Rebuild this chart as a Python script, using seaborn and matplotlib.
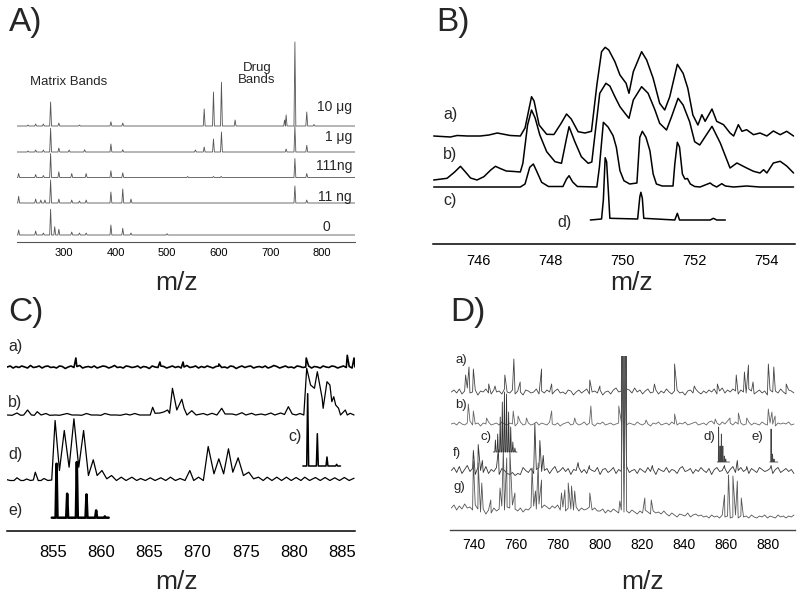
import numpy as np
import seaborn as sns
import matplotlib.pyplot as plt

W, H = 800, 594

# ---------------- panel A: stick peaks per loading (m/z, height)
A_LABELS = ["10 μg", "1 μg", "111ng", "11 ng", "0"]
A_MZ_10UG = [230, 245, 260, 274, 290, 330, 391, 414, 572, 590, 605.5, 632, 728, 731, 748, 771, 785]
A_INT_10UG = [1, 2, 2, 24, 3, 1, 4.3, 3, 17, 34, 43.7, 6, 6, 11, 84, 14, 1.5]
A_MZ_1UG = [230, 245, 260, 274, 290, 310, 340, 391, 414, 555, 572, 590, 605.5, 731, 748, 771]
A_INT_1UG = [1, 2, 2, 23.7, 4, 2, 2.3, 8, 2.3, 2, 5, 13, 20, 3, 26, 6.7]
A_MZ_111NG = [212, 245, 260, 274, 290, 315, 343, 391, 414, 540, 590, 605, 748, 771]
A_INT_111NG = [4, 3, 2, 24, 5.7, 4, 4, 6.7, 4.7, 1, 1, 1, 19, 4]
A_MZ_11NG = [212, 245, 255, 263, 274, 290, 315, 330, 343, 391, 414, 430, 748, 771]
A_INT_11NG = [6.7, 4, 3, 3, 23, 4, 3, 2, 3, 11, 14, 4, 17, 3]
A_MZ_0 = [212, 245, 260, 274, 282, 290, 315, 330, 343, 391, 414, 430, 500]
A_INT_0 = [5, 4, 2, 25.7, 8.3, 5.7, 3, 2, 2, 10, 6.7, 2, 1.3]

# ---------------- panel B: traced profiles (m/z, intensity)
B_A_MZ = [744.77, 745.23, 745.42, 745.70, 746.06, 746.30, 746.53, 746.89, 747.17, 747.30, 747.48,
          747.55, 747.69, 747.90, 748.10, 748.30, 748.45, 748.58, 748.77, 748.96, 749.14, 749.29,
          749.42, 749.52, 749.62, 749.79, 749.93, 750.10, 750.18, 750.30, 750.53, 750.67, 750.85,
          751.03, 751.17, 751.31, 751.52, 751.68, 751.81, 751.95, 752.09, 752.20, 752.29, 752.48,
          752.61, 752.80, 752.98, 753.08, 753.21, 753.31, 753.44, 753.63, 753.81, 754.00, 754.18,
          754.37, 754.55, 754.74]
B_A_INT = [0, -1, 0.5, 0, 0, 1, 3, 0.5, 0, 8, 39.3, 35, 11, 1.7, 1.5, 12.7, 22, 17, 4.3, 3, 4.7,
           51, 84.3, 88.7, 86, 74.3, 61, 52.7, 42.7, 64.3, 84.3, 76, 57.7, 32.7, 26, 39.3, 71.7,
           62.7, 47.7, 21, 11, 21.3, 14.7, 27, 14.7, 11.3, 3, 0, 11.3, 4.7, 6.3, 1.3, 3, 0, 5, 1.3,
           4.7, 0]
B_B_MZ = [744.77, 745.14, 745.35, 745.51, 745.65, 745.79, 745.97, 746.16, 746.35, 746.48, 746.60,
          746.78, 747.00, 747.17, 747.24, 747.37, 747.48, 747.58, 747.71, 747.90, 748.13, 748.31,
          748.45, 748.52, 748.68, 748.86, 749.05, 749.15, 749.29, 749.37, 749.54, 749.65, 749.79,
          749.93, 750.07, 750.18, 750.30, 750.53, 750.71, 750.90, 751.03, 751.22, 751.36, 751.54,
          751.68, 751.86, 752.00, 752.14, 752.48, 752.71, 752.98, 753.17, 753.44, 753.63, 753.81,
          753.91, 754.00, 754.18, 754.37, 754.55, 754.74]
B_B_INT = [0, 1.7, 8, 13.7, 8, 2, 0, 3.3, 10, 13.7, 11.7, 9, 8.5, 8, 16.7, 55, 70, 62, 45, 28.3,
           18.3, 16.7, 41.7, 53.3, 38.3, 23.3, 16.7, 18, 61.7, 86.7, 96.7, 94, 83.3, 73.3, 66.7,
           61.7, 80, 93.3, 86.7, 70, 56.7, 50, 63.3, 81.7, 75, 58.3, 38.3, 35, 53.7, 37, 12, 17,
           12, 8.7, 7, 10.3, 7, 17, 18.7, 14, 7]
B_C_MZ = [744.77, 747.17, 747.30, 747.43, 747.53, 747.62, 747.76, 747.95, 748.35, 748.45, 748.52,
          748.62, 748.75, 749.29, 749.36, 749.47, 749.60, 749.74, 749.83, 749.93, 750.04, 750.20,
          750.40, 750.48, 750.55, 750.65, 750.76, 750.85, 750.94, 751.10, 751.40, 751.45, 751.52,
          751.58, 751.66, 751.73, 751.80, 751.88, 752.00, 752.15, 752.43, 752.50, 752.61, 752.75,
          752.85, 753.08, 753.44, 753.80, 754.74]
B_C_INT = [0, 0, 3, 19.7, 23, 16, 4.7, 0.5, 0.5, 8, 11.3, 5, 0.5, 0, 19.7, 64.7, 60, 51.3, 39.7,
           16.3, 6.3, 3, 4, 49.7, 55.7, 49.7, 36.3, 13, 3, 1, 1, 23, 44.7, 40, 13, 8, 8.5, 3, 0.5,
           0, 4, 2, 0, 3.3, 1, 0, 1, 0, 0]
B_D_MZ = [749.11, 749.42, 749.47, 749.52, 749.56, 749.61, 749.65, 750.42, 750.48, 750.51, 750.55,
          750.59, 751.45, 751.52, 751.58, 752.43, 752.52, 752.61, 752.85]
B_D_INT = [0, 1, 20, 62.3, 58.3, 28, 1.7, 1, 23, 27.7, 21.7, 1.7, 0, 6.7, 0, 0, 1.7, 0, 0]

# ---------------- panel C
C_A_NOISE = [0, 1, -1, 0.5, -0.5, 1, 0, -1, 1.5, -0.5, 0, 1, -1, 0.5, 1, -0.5, 0, -1, 1, 0.5,
             -1.5, 0, 1, -0.5, 0.5, 1.5, -1, 0, 0.5, -0.5, 1, -1, 0, 1, 0.5, -1, 0, 1.5, -0.5, 0,
             -1, 1, 0.5, -0.5, 0, 1, -1, 0.5, 0, -1.5, 1, 0, -0.5, 1, 0.5, -1, 0, 1, -0.5, 0.5,
             -1, 0, 1.5, -0.5, 0, 1, -1, 0.5, -0.5, 1, 0, -1, 0.5, 1, -0.5, 0, -1, 1, 0.5, -1.5,
             0, 1, -0.5, 0.5, 1, -1, 0, 0.5, -0.5, 1, -1, 0, 1.5, 0.5, -1, 0, 1, -0.5, 0, -1,
             1, 0.5, -0.5, 0, 1, -1, 0.5, 0, -1, 1, 0, -0.5, 1, 0.5, -1, 0, 1, -0.5, 0.5, -1, 0]
C_A_PEAK_MZ = [857.4, 866.1, 868.5, 872.2, 881.25, 885.5, 886.2]
C_A_PEAK_INT = [9, 5, 5, 3, 9, 11.7, 9]
C_B_MZ = [850.3, 850.8, 851.3, 851.7, 852.0, 852.4, 852.8, 853.1, 853.4, 853.8, 854.3, 854.7,
          855.3, 855.7, 856.5, 857.0, 857.6, 858.0, 858.5, 859.0, 859.6, 860.0, 860.4, 861.0,
          861.6, 862.0, 862.6, 863.0, 863.5, 864.0, 864.6, 865.1, 865.35, 865.6, 866.1, 866.5,
          866.9, 867.1, 867.4, 867.85, 868.37, 868.6, 868.9, 869.4, 869.85, 870.6, 871.0, 871.5,
          872.0, 872.5, 872.85, 873.6, 874.0, 874.6, 875.0, 875.6, 876.0, 876.6, 877.0, 877.6,
          878.0, 878.6, 879.0, 879.4, 879.8, 880.2, 880.6, 881.0, 881.3, 881.7, 882.1, 882.4,
          882.9, 883.0, 883.4, 883.7, 883.9, 884.1, 884.3, 884.6, 884.8, 885.3, 885.5, 885.8, 886.2]
C_B_INT = [0, -0.3, 2, -0.3, 0, 5, 0, -0.3, 3.3, 0, 1.5, -0.3, 0, -0.3, 1.5, 0, 0, -0.3, 1.5, 0,
           0, -0.3, 1.5, 0, 0, -0.3, 1, 0, 1.5, 0, 0, 0, 7.7, 1.7, 2, 3, 5, 1.7, 26.7, 5, 15.7,
           6.7, 0, 4.3, 0, 1.5, 0, 1.7, 0, 6.7, 1, 1, 0, 2.3, 0, 1.7, 0, 1, 0, 2, 0, 2, 0.5, 8.3,
           1, 0, 1.5, 0, 46.7, 30, 26.7, 43.3, 16.7, 6.7, 33.3, 30, 13.3, 18.3, 10, 6.7, 0, 5, 0,
           1.7, 0]
C_C_PEAK_MZ = [881.4, 882.4, 883.4, 884.4]
C_C_PEAK_INT = [72.3, 32.3, 9, 1.7]
C_D_MZ = [850.2, 850.6, 851.0, 851.3, 851.7, 852.0, 852.3, 852.7, 853.0, 853.2, 853.5, 853.8,
          854.1, 854.5, 854.9, 855.25, 855.7, 856.2, 856.7, 857.2, 857.7, 858.2, 858.7, 859.2,
          859.6, 860.1, 860.6, 861.1, 861.6, 862.1, 862.6, 863.2, 863.7, 864.1, 864.6, 865.1,
          865.6, 866.2, 866.7, 867.2, 867.7, 868.2, 868.7, 869.2, 869.6, 870.1, 870.6, 871.1,
          871.7, 872.2, 872.7, 873.2, 873.65, 874.2, 874.75, 875.3, 875.8, 876.3, 876.8, 877.2,
          877.7, 878.2, 878.7, 879.2, 879.7, 880.2, 880.7, 881.1, 881.6, 882.2, 882.7, 883.2,
          883.7, 884.2, 884.7, 885.2, 885.7, 886.2]
C_D_INT = [1, 0, 0, 2.7, 0, 0, 1.5, 0, 0.5, 8.3, 0, 0, 2, 0, 0.5, 60, 10, 50, 13.3, 61.7, 13.3,
           50, 5, 20.7, 5, 10, 1.7, 5, 0, 3.3, 0, 3.3, 0, 2, 0, 2.7, 0, 2.7, 0, 3.3, 0, 2, 0, 10,
           0, 3.3, 0, 34, 6.7, 21.7, 6.7, 31.7, 8.3, 22.7, 5, 8.3, 1.7, 3.3, 0, 3.3, 0, 3.3, 0,
           3.3, 0, 3, 0, 3.3, 0, 3, 0, 3, 0, 2.7, 0, 3, 0, 2.3]
C_E_PEAK_MZ = [855.4, 856.5, 857.5, 858.5, 859.5, 860.4]
C_E_PEAK_INT = [54, 24, 55.7, 23.3, 7.3, 1.3]

# ---------------- panel D
D_A_NOISE = [0, 2, -1, 3, -2, 1, 4, -1, 0, 2, -3, 1, 0, 3, -1, -2, 2, 0, 1, -2, 3, 0, -1, 2, -2,
             1, 0, -3, 2, 1, -1, 0, 3, -2, 1, -1, 2, 0, -2, 1, 3, -1, 0, -2, 2, 1, -3, 0, 2, -1,
             1, 3, -2, 0, 1, -1, 2, -3, 0, 1, -2, 2, 4, 0, 1, -1, 3, 2, -1, 4, 0, 2, -2, 1, 3,
             -1, 0, 2, -2, 1, -1, 3, 0, -2, 1, 2, -1, 0, -3, 1, 2, -1, 3, 0, -2, 1, -1, 2, 0, 3,
             -2, 1, 4, -1, 2, 0, 3, 1, -2, 2, 0, -1, 3, 1, -2, 0, 2, -1, 1, -3, 2, 0, 1, -1, 3,
             0, -2, 2, 1, -1]
D_A_PEAK_MZ = [736.0, 737.6, 739.7, 747, 750, 754.7, 759.0, 762, 772.2, 777, 795.2, 800, 810.6,
               812.4, 826, 835.6, 845, 856, 865, 868.9, 870.8, 873, 880.3, 882.9, 888.8]
D_A_PEAK_INT = [17, 25, 23, 8, 6, 17, 33, 10, 23, 8, 12, 6, 130, 130, 8, 28, 6, 8, 17, 20, 27,
                10, 28, 25, 8]
D_B_NOISE = [0, 1, -1, 2, 0, -1, 1, 3, -1, 0, 1, -2, 1, 0, 2, -1, 0, 1, -1, 2, 0, -1, 1, 0, -2,
             1, 2, -1, 0, 1, -1, 0, 2, -1, 1, 0, -1, 2, 0, -1, 1, -2, 0, 1, 2, -1, 0, 1, -1, 0,
             2, -1, 1, 0, -2, 1, 0, 2, -1, 0, 1, -1, 0, 1, 2, 0, -1, 1, 0, -1, 2, 0, -1, 1, 0,
             -2, 1, 0, 2, -1, 0, 1, -1, 2, 0, -1, 1, 0, 2, -1, 0, 1, 2, -1, 0, 1, -1, 2, 3, 0,
             1, -1, 2, 0, 3, 1, -1, 2, 0, 1, -1, 0, 2, -1, 1, 0, -1, 2, 0, -1, 1, 0, -2, 1, 0,
             1, 0, 2, -1, 0]
D_B_PEAK_MZ = [737.3, 739.7, 746, 758.7, 761, 765, 777, 788, 795.7, 809, 810.6, 812.4, 822,
               835.6, 855, 862, 866, 870, 880.3, 882, 883.5]
D_B_PEAK_INT = [20, 13, 6, 13, 8, 6, 13, 6, 18, 18, 130, 130, 4, 10, 5, 6, 11, 6, 15, 12, 8]
D_F_NOISE = [0, 3, -2, 4, -3, 1, 5, -1, 2, -4, 3, 0, -2, 4, -3, 1, -1, 3, -4, 2, 0, -3, -4, -2,
             -5, -3, -4, 3, 0, -2, 2, -3, 1, 3, -1, 0, 2, -3, 1, 4, -2, 0, 3, -1, 2, -4, 1, 0, 3,
             -2, 1, -3, 2, 0, -1, 3, -4, 1, 2, -2, 0, 3, -3, 1, -1, 2, 4, -2, 0, 1, -3, 2, 0, -2,
             3, -1, 1, -4, 2, 0, -1, 3, -2, 1, 0, -3, 2, 4, -1, 0, 2, -3, 1, -1, 3, 0, -2, 2, -4,
             1, 3, -1, 0, 2, -3, 1, 4, -2, 0, 3, -1, 1, -3, 2, 0, -2, 3, 1, -1, 0, 2, -3, 1, 3,
             -2, 0, 2, -1, 1, -3]
D_F_PEAK_MZ = [739.7, 742.0, 744, 751.6, 769, 771.4, 773, 789.6, 795, 810.6, 812.4, 825, 859.4,
               865.5, 870, 881.6]
D_F_PEAK_INT = [20, 26, 10, 21, 47, 30, 15, 8, 5, 150, 150, 5, 5, 10, 4, 5]
D_G_NOISE = [10, 13, 8, 12, 9, 14, 10, 11, 8, 13, 9,
             6, 9, 4, 8, 5, 10, 7,
             9, 12, 8, 11, 10, 13, 9,
             7, 10, 6, 9, 8, 11,
             12, 9, 14, 10, 13, 11, 9, 12, 10, 13,
             8, 11, 7, 10, 9, 8, 11, 7, 10, 8, 9, 11, 8, 10, 7,
             7, 9, 5, 8, 6, 9, 7, 5, 8, 6,
             7, 5, 8, 6, 4, 7, 5, 8, 6, 4, 7, 5, 6, 4, 7,
             4, 2, 5, 3, 1, 4, 3, 2, 5, 1, 3, 4, 2, 3, 1,
             2, 0, 3, 1, 2, 0, 3, 1, 2, 0, 1, 3, 0, 2, 1,
             2, 0, 3, 1, 0, 2, 1, 3, 0, 2, 1, 0, 3, 1, 2, 0, 2, 1, 3]
D_G_PEAK_MZ = [739.7, 742.0, 743.7, 748, 752.4, 754.0, 755.6, 757.1, 759.5, 767.7, 769.3, 770.6,
               772.2, 781.7, 783.3, 784.9, 786.5, 788.0, 795.2, 809.5, 810.6, 812.4, 821.4,
               824.5, 859.4, 861.3, 863.4, 865.5, 867.4]
D_G_PEAK_INT = [57, 55, 35, 18, 30, 70, 60, 67, 25, 50, 27, 55, 38, 25, 28, 35, 32, 27, 25, 17,
                170, 170, 20, 18, 23, 43, 42, 37, 20]
D_C_PEAK_MZ = [750.2, 751.3, 752.5, 753.5, 754.5, 755.5, 756.5, 757.5, 758.5, 759.5]
D_C_PEAK_INT = [12, 18, 35, 50, 60, 58, 40, 25, 10, 4]
D_D_PEAK_MZ = [856.6, 857.3, 857.9, 858.6, 859.3, 860.0]
D_D_PEAK_INT = [35, 16, 28, 16, 6, 3]
D_E_PEAK_MZ = [881.6, 882.3, 883.0]
D_E_PEAK_INT = [33, 8, 3]


def sticks(mz, inten, lo, hi, w):
    xs, ys = [lo], [0.0]
    for m, v in sorted(zip(mz, inten)):
        xs += [m - w, m, m + w]
        ys += [0.0, v, 0.0]
    xs.append(hi)
    ys.append(0.0)
    return xs, ys


def noisy(noise, mz, inten, lo, hi):
    grid = np.linspace(lo, hi, len(noise))
    pts = sorted(list(zip(grid, noise)) + list(zip(mz, inten)))
    xs, ys = zip(*pts)
    return list(xs), list(ys)


def draw(ax, xs, ys, offset, color="black", lw=1.0):
    sns.lineplot(x=np.asarray(xs, float), y=np.asarray(ys, float) + offset, ax=ax,
                 color=color, linewidth=lw, sort=False, estimator=None, legend=False)


def panel(fig, left, top, right, bottom, xlim, ticks, size, tlen, pad, color, lw):
    ax = fig.add_axes([left / W, 1 - bottom / H, (right - left) / W, (bottom - top) / H])
    ax.patch.set_alpha(0)
    ax.set_xlim(*xlim)
    ax.set_ylim(0, bottom - top)
    sns.despine(ax=ax, left=True)
    ax.spines["bottom"].set_color(color)
    ax.spines["bottom"].set_linewidth(lw)
    ax.set_xticks(ticks)
    ax.set_yticks([])
    ax.tick_params(axis="x", direction="in", length=tlen, width=lw, color=color,
                   labelsize=size, pad=pad, labelcolor="black")
    return ax


def label(fig, x, y, s, size, ha="left", **kw):
    fig.text(x / W, 1 - y / H, s, fontsize=size, ha=ha, va="center", **kw)


sns.set_theme(style="white")
plt.rcParams["font.family"] = ["Liberation Sans", "DejaVu Sans"]

fig = plt.figure(figsize=(8, 5.94), dpi=100)

# ---- A
axA = panel(fig, 17, 40, 355, 242, (208.8, 864.6), [300, 400, 500, 600, 700, 800], 8, 5, 4,
            "#555555", 0.8)
a_sets = [(A_MZ_10UG, A_INT_10UG), (A_MZ_1UG, A_INT_1UG), (A_MZ_111NG, A_INT_111NG),
          (A_MZ_11NG, A_INT_11NG), (A_MZ_0, A_INT_0)]
for (mz, it), off in zip(a_sets, [116, 90, 64.5, 39, 7]):
    xs, ys = sticks(mz, it, 208.8, 864.6, 1.8)
    draw(axA, xs, ys, off, "#555555", 0.6)
for s, y in zip(A_LABELS[:4], [107, 137, 166, 197]):
    label(fig, 352, y, s, 10, ha="right")
label(fig, 326, 227, A_LABELS[4], 10, ha="center")
label(fig, 30, 82, "Matrix Bands", 9.5)
label(fig, 257, 74, "Drug\nBands", 9.5, ha="center", linespacing=1.05)

# ---- B
axB = panel(fig, 433, 40, 795, 244, (744.75, 754.78), [746, 748, 750, 752, 754], 10.5, 7, 7,
            "black", 1.1)
draw(axB, B_A_MZ, B_A_INT, 108, lw=1.1)
draw(axB, B_B_MZ, B_B_INT, 64, lw=1.1)
draw(axB, B_C_MZ, B_C_INT, 57, lw=1.1)
draw(axB, B_D_MZ, B_D_INT, 24, lw=1.1)
for s, x, y in [("a)", 443, 115), ("b)", 443, 155), ("c)", 443, 200), ("d)", 557, 222)]:
    label(fig, x, y, s, 11.5)

# ---- C
axC = panel(fig, 7, 330, 355, 531, (850.27, 886.3), [855, 860, 865, 870, 875, 880, 885], 12, 8,
            10, "black", 1.1)
xs, ys = noisy(C_A_NOISE, C_A_PEAK_MZ, C_A_PEAK_INT, 850.3, 886.3)
draw(axC, xs, ys, 164, lw=1.2)
draw(axC, C_B_MZ, C_B_INT, 116, lw=0.9)
xs, ys = sticks(C_C_PEAK_MZ, C_C_PEAK_INT, 880.9, 884.8, 0.1)
draw(axC, xs, ys, 65, lw=1.1)
draw(axC, C_D_MZ, C_D_INT, 50.5, lw=0.9)
xs, ys = sticks(C_E_PEAK_MZ, C_E_PEAK_INT, 854.9, 860.8, 0.1)
draw(axC, xs, ys, 13.3, lw=1.8)
for s, x, y in [("a)", 8, 347), ("b)", 8, 402), ("d)", 8, 455), ("e)", 8, 510), ("c)", 288, 437)]:
    label(fig, x, y, s, 11.5)

# ---- D
axD = panel(fig, 450, 356, 795, 530, (728.56, 893.0), [740, 760, 780, 800, 820, 840, 860, 880],
            10, 4.5, 6, "#444444", 1.0)
for noise, mz, it, off, col in [(D_A_NOISE, D_A_PEAK_MZ, D_A_PEAK_INT, 138, "#444444"),
                                (D_B_NOISE, D_B_PEAK_MZ, D_B_PEAK_INT, 106, "#666666"),
                                (D_F_NOISE, D_F_PEAK_MZ, D_F_PEAK_INT, 59.5, "#333333"),
                                (D_G_NOISE, D_G_PEAK_MZ, D_G_PEAK_INT, 12, "#555555")]:
    xs, ys = noisy(noise, mz, it, 729.2, 892.5)
    draw(axD, xs, ys, off, col, 0.6)
xs, ys = sticks(D_C_PEAK_MZ, D_C_PEAK_INT, 749.2, 760.5, 0.3)
draw(axD, xs, ys, 78, "#333333", 0.6)
xs, ys = sticks(D_D_PEAK_MZ, D_D_PEAK_INT, 855.9, 861.8, 0.15)
draw(axD, xs, ys, 68, "#444444", 0.6)
xs, ys = sticks(D_E_PEAK_MZ, D_E_PEAK_INT, 881.0, 884.8, 0.15)
draw(axD, xs, ys, 68, "#444444", 0.6)
for s, x, y in [("a)", 455, 360), ("b)", 455, 405), ("c)", 481, 437), ("f)", 453, 453),
                ("g)", 453, 487), ("d)", 703, 437), ("e)", 752, 437)]:
    label(fig, x, y, s, 9.5)

# ---- panel letters and axis titles
for s, x, y in [("A)", 9, 22), ("B)", 436, 22), ("C)", 8, 313), ("D)", 450, 313)]:
    label(fig, x, y, s, 24)
for x, y in [(177, 283), (632, 283), (177, 582), (643, 582)]:
    label(fig, x, y, "m/z", 19, ha="center")

fig.savefig("out.png", dpi=100)
